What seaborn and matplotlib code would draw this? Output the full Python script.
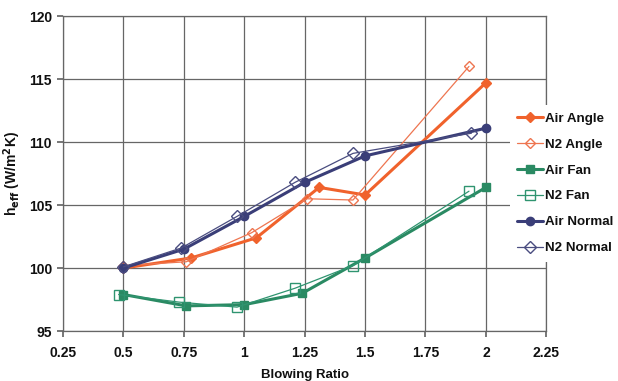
import matplotlib
matplotlib.use("Agg")
import matplotlib.pyplot as plt
import seaborn as sns
import pandas as pd

# Blowing ratio / effective heat transfer coefficient for each configuration
air_angle_x = [0.50, 0.78, 1.05, 1.31, 1.50, 2.00]
air_angle_y = [100.0, 100.8, 102.4, 106.4, 105.8, 114.7]

n2_angle_x = [0.50, 0.76, 1.03, 1.26, 1.45, 1.93]
n2_angle_y = [100.2, 100.5, 102.8, 105.5, 105.4, 116.0]

air_fan_x = [0.50, 0.76, 1.00, 1.24, 1.50, 2.00]
air_fan_y = [97.9, 97.0, 97.1, 98.0, 100.8, 106.4]

n2_fan_x = [0.48, 0.73, 0.97, 1.21, 1.45, 1.93]
n2_fan_y = [97.9, 97.3, 96.9, 98.4, 100.2, 106.1]

air_normal_x = [0.50, 0.75, 1.00, 1.25, 1.50, 2.00]
air_normal_y = [100.0, 101.5, 104.1, 106.8, 108.9, 111.1]

n2_normal_x = [0.50, 0.74, 0.97, 1.21, 1.45, 1.94]
n2_normal_y = [100.1, 101.6, 104.1, 106.8, 109.1, 110.7]

series_names = ["Air Angle", "N2 Angle", "Air Fan", "N2 Fan", "Air Normal", "N2 Normal"]
x_ticks = [0.25, 0.5, 0.75, 1, 1.25, 1.5, 1.75, 2, 2.25]
x_tick_labels = ["0.25", "0.5", "0.75", "1", "1.25", "1.5", "1.75", "2", "2.25"]
y_ticks = [95, 100, 105, 110, 115, 120]
y_tick_labels = ["95", "100", "105", "110", "115", "120"]

frames = []
for name, xs, ys in zip(series_names,
                        [air_angle_x, n2_angle_x, air_fan_x, n2_fan_x, air_normal_x, n2_normal_x],
                        [air_angle_y, n2_angle_y, air_fan_y, n2_fan_y, air_normal_y, n2_normal_y]):
    frames.append(pd.DataFrame({"ratio": xs, "h": ys, "series": name}))
df = pd.concat(frames, ignore_index=True)

styles = {
    "Air Angle":  dict(color="#F0622C", lw=2.2, marker="D", ms=5, mfc="#F0622C"),
    "N2 Angle":   dict(color="#EE7550", lw=0.9, marker="D", ms=5.5, mfc="none"),
    "Air Fan":    dict(color="#2A8A63", lw=2.2, marker="s", ms=6, mfc="#2A8A63"),
    "N2 Fan":     dict(color="#2F9470", lw=0.9, marker="s", ms=7, mfc="none"),
    "Air Normal": dict(color="#3A3E78", lw=2.2, marker="o", ms=6, mfc="#3A3E78"),
    "N2 Normal":  dict(color="#4A4D80", lw=0.9, marker="D", ms=6, mfc="none"),
}

sns.set_theme(style="white")
plt.rcParams["font.family"] = ["Liberation Sans", "DejaVu Sans"]
plt.rcParams["font.weight"] = "bold"

fig = plt.figure(figsize=(6.18, 3.81), dpi=100)
ax = fig.add_axes([0.102, 0.131, 0.782, 0.827])

for name in series_names:
    st = styles[name]
    sub = df[df["series"] == name]
    sns.lineplot(data=sub, x="ratio", y="h", ax=ax, sort=False, estimator=None,
                 color=st["color"], linewidth=st["lw"], marker=st["marker"],
                 markersize=st["ms"], markerfacecolor=st["mfc"],
                 markeredgecolor=st["color"], markeredgewidth=1.0, label=name,
                 zorder=3)

ax.set_xlim(0.25, 2.25)
ax.set_ylim(95, 120)
ax.set_xticks(x_ticks)
ax.set_xticklabels(x_tick_labels, fontsize=10, fontweight="bold", color="#111111")
ax.set_yticks(y_ticks)
ax.set_yticklabels(y_tick_labels, fontsize=10, fontweight="bold", color="#111111")
ax.grid(True, color="#666666", linewidth=0.9)
for sp in ax.spines.values():
    sp.set_color("#666666")
    sp.set_linewidth(0.9)
ax.tick_params(axis="x", which="major", length=4, color="#666666", direction="out",
               bottom=True, pad=7)
ax.tick_params(axis="y", which="major", length=4, color="#666666", direction="out",
               left=True, pad=4)

ax.set_xlabel("Blowing Ratio", fontsize=9.5, fontweight="bold", color="#111111", labelpad=6)
ax.set_ylabel(r"h$_{\mathbf{eff}}$ (W/m$^{\mathbf{2}}$K)", fontsize=10, fontweight="bold",
              color="#111111", labelpad=4)

handles, labels = ax.get_legend_handles_labels()
if ax.get_legend():
    ax.get_legend().remove()
leg = fig.legend(handles, labels, loc="upper left", bbox_to_anchor=(510 / 618, 1 - 105 / 381),
                 frameon=True, facecolor="white", edgecolor="none", framealpha=1.0,
                 fontsize=9.6, handlelength=1.9, handletextpad=0.2, labelspacing=1.02,
                 borderpad=0.55, borderaxespad=0.0, fancybox=False)
for t in leg.get_texts():
    t.set_fontweight("bold")
    t.set_color("#111111")

fig.savefig("out.png", dpi=100)
